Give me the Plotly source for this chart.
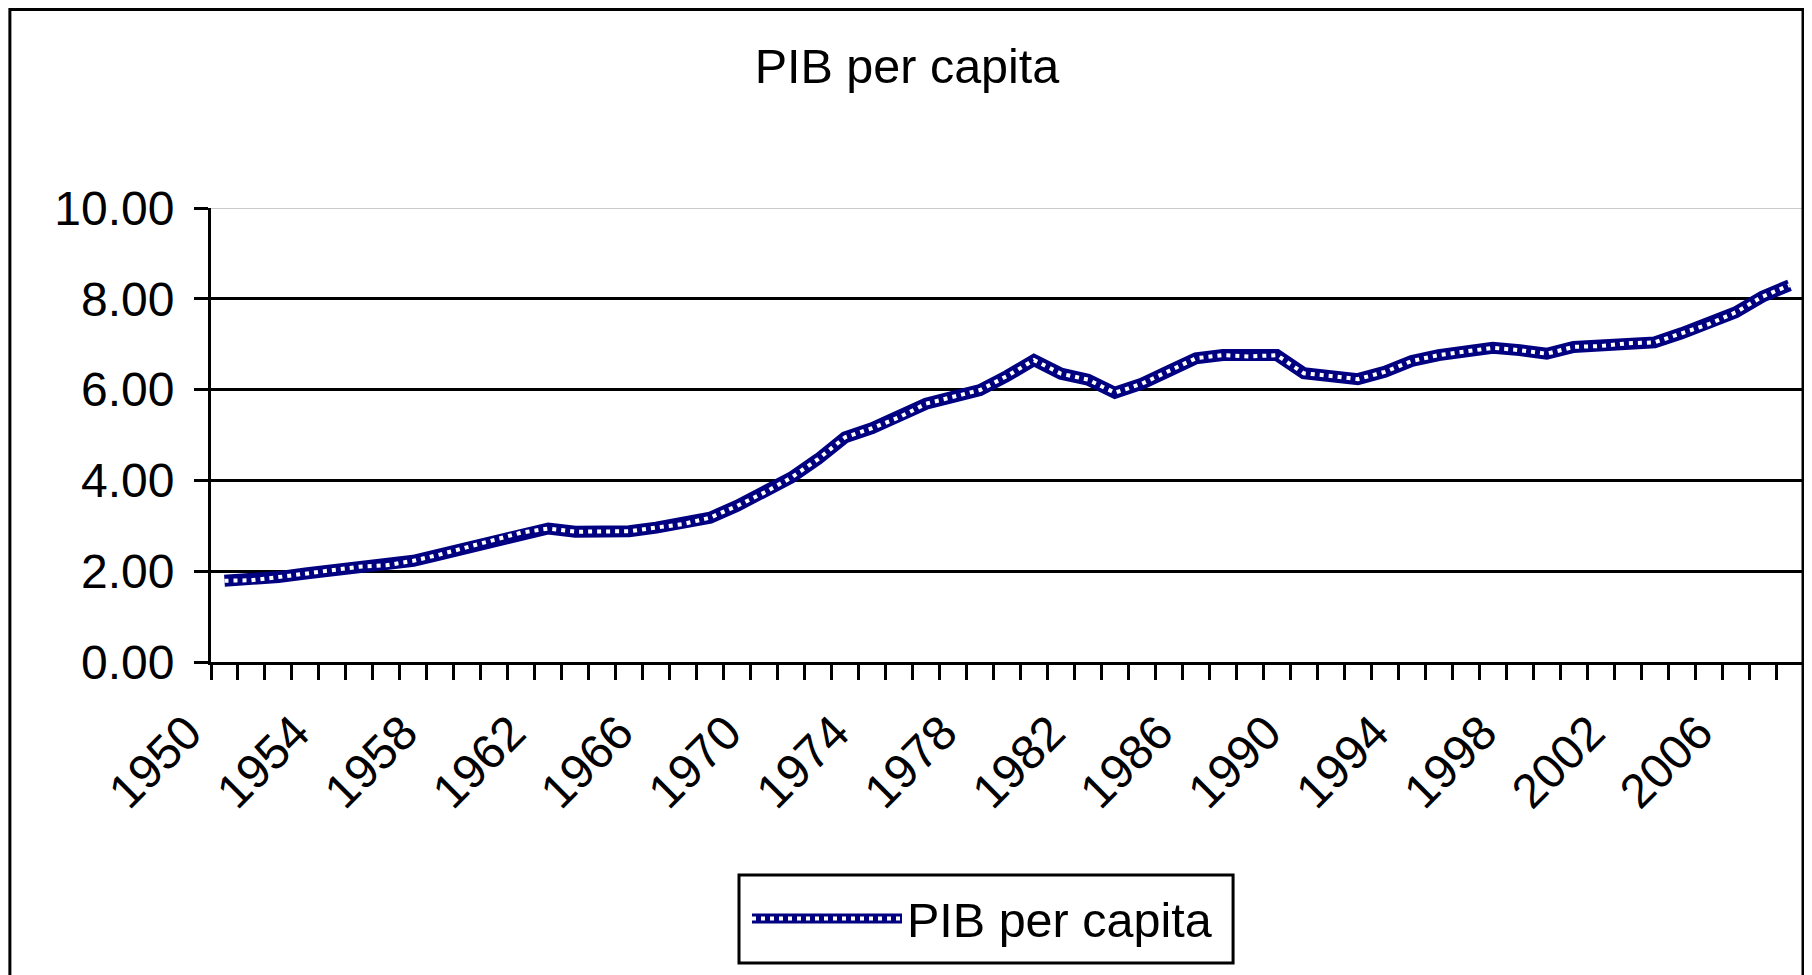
import plotly.graph_objects as go

# ---------------- data ----------------
years = [1950, 1951, 1952, 1953, 1954, 1955, 1956, 1957, 1958, 1959,
         1960, 1961, 1962, 1963, 1964, 1965, 1966, 1967, 1968, 1969,
         1970, 1971, 1972, 1973, 1974, 1975, 1976, 1977, 1978, 1979,
         1980, 1981, 1982, 1983, 1984, 1985, 1986, 1987, 1988, 1989,
         1990, 1991, 1992, 1993, 1994, 1995, 1996, 1997, 1998, 1999,
         2000, 2001, 2002, 2003, 2004, 2005, 2006, 2007, 2008]

pib_per_capita = [1.79, 1.80, 1.87, 1.95, 2.02, 2.10, 2.13, 2.23, 2.37, 2.52,
                  2.69, 2.85, 2.94, 2.87, 2.87, 2.88, 2.96, 3.04, 3.18, 3.44,
                  3.73, 4.06, 4.47, 4.95, 5.15, 5.39, 5.69, 5.84, 5.99, 6.30,
                  6.65, 6.35, 6.22, 5.93, 6.13, 6.41, 6.69, 6.76, 6.73, 6.76,
                  6.36, 6.30, 6.23, 6.39, 6.63, 6.76, 6.85, 6.92, 6.87, 6.79,
                  6.94, 6.96, 7.02, 7.04, 7.24, 7.44, 7.70, 8.05, 8.30]

tick_years = [1950, 1954, 1958, 1962, 1966, 1970, 1974, 1978, 1982, 1986,
              1990, 1994, 1998, 2002, 2006]
tick_labels = ["1950", "1954", "1958", "1962", "1966", "1970", "1974", "1978",
               "1982", "1986", "1990", "1994", "1998", "2002", "2006"]
y_ticks = [0, 2, 4, 6, 8, 10]

series_name = "PIB per capita"
title_text = "PIB per capita"

# ---------------- layout geometry ----------------
OFF = 8                      # page body margin
W, H = 1812 - OFF, 975 - OFF
L, T = 211 - OFF, 208 - OFF
R = W - (1806 - OFF)
B = H - (662 - OFF)
PW, PH = W - L - R, H - T - B


def px(x):   # reference-page x -> paper
    return (x - OFF - L) / PW


def py(y):   # reference-page y -> paper
    return (H - B - (y - OFF)) / PH


FONT = "Arial, 'Liberation Sans', Helvetica, sans-serif"
NAVY = "#000080"

boundaries = [years[0] - 0.5 + k for k in range(len(years) + 1)]

fig = go.Figure()

fig.add_trace(go.Scatter(
    x=years, y=pib_per_capita, mode="lines", name=series_name,
    line=dict(color=NAVY, width=12), showlegend=True, legend="legend",
))
fig.add_trace(go.Scatter(
    x=years, y=pib_per_capita, mode="lines", name=" ",
    line=dict(color="white", width=4, dash="4px,5px"),
    showlegend=True, legend="legend2", hoverinfo="skip",
))

leg_common = dict(xanchor="left", yanchor="middle", borderwidth=0,
                  bgcolor="rgba(0,0,0,0)", itemwidth=150, tracegroupgap=0,
                  font=dict(size=48.5, family=FONT, color="black"))

fig.update_layout(
    width=W, height=H,
    margin=dict(l=L, r=R, t=T, b=B, pad=0),
    paper_bgcolor="white", plot_bgcolor="white",
    font=dict(family=FONT, color="black", size=48),
    title=dict(text=title_text, x=(907 - OFF) / W, xref="container",
               xanchor="center", y=1 - 58 / H, yref="container",
               yanchor="middle",
               font=dict(size=48.5, family=FONT, color="black")),
    showlegend=True,
    legend=dict(x=px(748), y=py(919), **leg_common),
    legend2=dict(x=px(748), y=py(919), **leg_common),
    xaxis=dict(
        range=[years[0] - 0.5, years[-1] + 0.5],
        tickmode="array", tickvals=tick_years, ticktext=tick_labels,
        tickangle=-45, ticks="", showgrid=False, zeroline=False,
        showline=True, linecolor="black", linewidth=3,
        tickfont=dict(size=48, family=FONT, color="black"),
        ticklabelstandoff=20, ticklabelshift=-37,
        minor=dict(tickmode="array", tickvals=boundaries, ticks="outside",
                   ticklen=15, tickwidth=3, tickcolor="black", showgrid=False),
    ),
    yaxis=dict(
        range=[0, 10], tickmode="array", tickvals=y_ticks, tickformat=".2f",
        showgrid=True, gridcolor="black", gridwidth=3, zeroline=False,
        showline=True, linecolor="black", linewidth=3, mirror=True,
        ticks="outside", ticklen=14, tickwidth=3, tickcolor="black",
        tickfont=dict(size=48, family=FONT, color="black"),
        ticklabelstandoff=10,
    ),
    shapes=[
        # light grey top gridline at 10
        dict(type="line", xref="paper", yref="y", x0=0, x1=1, y0=10, y1=10,
             line=dict(color="white", width=4), layer="above"),
        dict(type="line", xref="paper", yref="y", x0=0, x1=1, y0=10, y1=10,
             line=dict(color="#b8b8b8", width=1.5), layer="above"),
        # outer chart frame (top edge kept just inside the figure)
        dict(type="rect", xref="paper", yref="paper",
             x0=px(9.5), x1=px(1806), y0=py(1000), y1=py(OFF + 1.5),
             line=dict(color="black", width=3), fillcolor="rgba(0,0,0,0)",
             layer="above"),
        # legend box
        dict(type="rect", xref="paper", yref="paper",
             x0=px(740), x1=px(1235), y0=py(963), y1=py(875),
             line=dict(color="black", width=3), fillcolor="rgba(0,0,0,0)",
             layer="above"),
    ],
)

fig.write_html("out.html")
